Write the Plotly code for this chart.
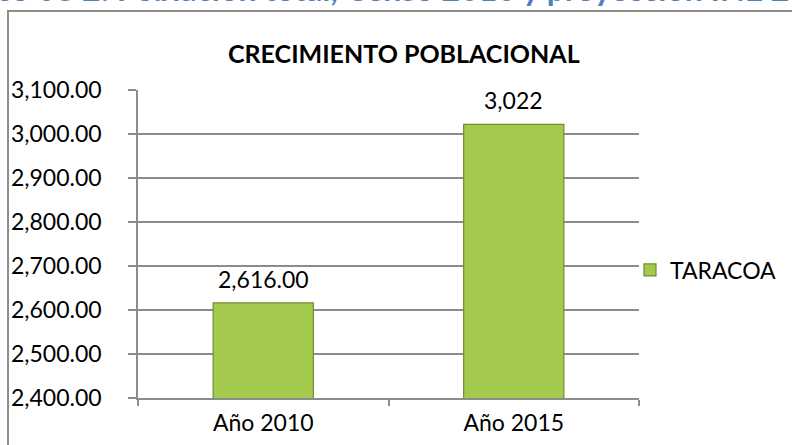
import plotly.graph_objects as go

categories = ["Año 2010", "Año 2015"]
values = [2616, 3022]
value_labels = ["2,616.00", "3,022"]
series_name = "TARACOA"
chart_title = "CRECIMIENTO POBLACIONAL"
doc_caption = "Gráfico 08 2: Población total, Censo 2010 y proyección INE 2015"
y_ticks = [2400, 2500, 2600, 2700, 2800, 2900, 3000, 3100]

W, H = 792, 445
ML, MR, MT, MB = 138, 153, 90, 47
PW, PH = W - ML - MR, H - MT - MB

def px(xp):
    return (xp - ML) / PW

def py(yp):
    return (H - MB - yp) / PH

FONT = "Lato"
FS = 23
grid = "#8C8C8C"

fig = go.Figure()
fig.add_trace(go.Bar(
    x=categories, y=values, name=series_name,
    marker=dict(color="#A3C94D", line=dict(color="#6F8E2C", width=1.2)),
    width=0.4, showlegend=True,
))

for c, v, t in zip(categories, values, value_labels):
    fig.add_annotation(x=c, y=v, text=t, showarrow=False, yanchor="bottom",
                       yshift=8, font=dict(family=FONT, size=FS, color="#000"))

fig.add_annotation(x=px(404), y=py(53), xref="paper", yref="paper", text="<b>" + chart_title + "</b>",
                   showarrow=False, xanchor="center", yanchor="middle",
                   font=dict(family=FONT, size=25, color="#000"))

fig.add_annotation(x=px(-76), y=py(10), xref="paper", yref="paper", text="<b>" + doc_caption + "</b>",
                   showarrow=False, xanchor="left", yanchor="bottom",
                   font=dict(family=FONT, size=32, color="#4F81BD"))

fig.add_shape(type="rect", xref="paper", yref="paper",
              x0=px(8), x1=px(900), y0=py(11), y1=py(600),
              line=dict(color="#8C8C8C", width=2), fillcolor="rgba(0,0,0,0)", layer="below")

fig.update_layout(
    width=W, height=H,
    margin=dict(l=ML, r=MR, t=MT, b=MB, autoexpand=False),
    paper_bgcolor="white", plot_bgcolor="white",
    font=dict(family=FONT, size=FS, color="#000"),
    bargap=0.6,
    legend=dict(xref="container", yref="container", x=630 / W, y=1 - 270 / H,
                xanchor="left", yanchor="middle",
                font=dict(family=FONT, size=FS), itemwidth=30,
                bgcolor="rgba(0,0,0,0)"),
    xaxis=dict(type="category", showline=True, linecolor=grid, linewidth=1.5,
               ticks="outside", ticklen=6, tickcolor=grid, tickwidth=1.5,
               tickson="boundaries", showgrid=False, ticklabelstandoff=4,
               automargin=False, tickfont=dict(family=FONT, size=FS)),
    yaxis=dict(range=[2400, 3100], tickvals=y_ticks, tickformat=",.2f",
               showline=True, linecolor=grid, linewidth=1.5,
               ticks="outside", ticklen=8, tickcolor=grid, tickwidth=1.5,
               showgrid=True, gridcolor=grid, gridwidth=1.5,
               ticklabelstandoff=22, zeroline=False, automargin=False,
               tickfont=dict(family=FONT, size=FS)),
)

fig.write_html("out.html", config={"displayModeBar": False},
               post_script="document.body.style.margin='0';document.body.style.overflow='hidden';")
